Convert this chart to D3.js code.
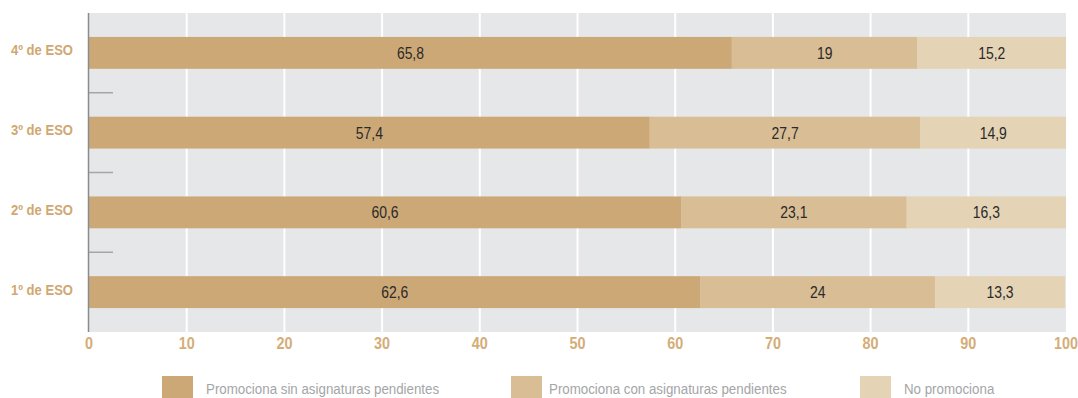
<!DOCTYPE html>
<html><head><meta charset="utf-8">
<script src="https://cdn.jsdelivr.net/npm/d3@7"></script>
<style>
html,body{margin:0;padding:0;background:#fff;}
svg{display:block;}
text{font-family:"Liberation Sans",Arial,sans-serif;}
</style></head>
<body>
<svg id="c" width="1078" height="398"></svg>
<script>
const categories = ["4º de ESO","3º de ESO","2º de ESO","1º de ESO"];
const seriesNames = ["Promociona sin asignaturas pendientes","Promociona con asignaturas pendientes","No promociona"];
const sinPendientes = [65.8, 57.4, 60.6, 62.6];
const conPendientes = [19, 27.7, 23.1, 24];
const noPromociona = [15.2, 14.9, 16.3, 13.3];
const xTicks = [0,10,20,30,40,50,60,70,80,90,100];
const colors = ["#cda877","#d9bd95","#e5d3b5"];

const series = [sinPendientes, conPendientes, noPromociona];
const svg = d3.select("#c");
const pLeft = 89, pRight = 1066, pTop = 13, pBottom = 332;

const x = d3.scaleLinear().domain([0,100]).range([pLeft,pRight]);
const y = d3.scaleBand().domain(categories).range([pTop,pBottom]).paddingInner(0.6).paddingOuter(0.3);

svg.append("rect").attr("x",pLeft).attr("y",pTop).attr("width",pRight-pLeft).attr("height",pBottom-pTop).attr("fill","#e6e7e9");

// grid
svg.append("g").selectAll("line").data(xTicks.filter(d=>d>0&&d<100)).join("line")
  .attr("x1",d=>x(d)).attr("x2",d=>x(d)).attr("y1",pTop).attr("y2",pBottom)
  .attr("stroke","#fff").attr("stroke-width",2);

// category separator ticks
const seps = categories.slice(1).map((c,i)=> (y(categories[i])+y.bandwidth() + y(c))/2);
svg.append("g").selectAll("line").data(seps).join("line")
  .attr("x1",pLeft).attr("x2",pLeft+24).attr("y1",d=>d).attr("y2",d=>d)
  .attr("stroke","#a5a6a8").attr("stroke-width",1.5);

// stacked bars
const stacked = categories.map((c,i)=>{
  let acc=0;
  return series.map((s,k)=>{const v=s[i]; const r={cat:c,k,v,x0:acc,x1:acc+v}; acc+=v; return r;});
}).flat();

const g = svg.append("g");
g.selectAll("rect").data(stacked).join("rect")
  .attr("x",d=>x(d.x0)).attr("width",d=>x(Math.min(d.x1,100))-x(d.x0))
  .attr("y",d=>y(d.cat)).attr("height",y.bandwidth())
  .attr("fill",d=>colors[d.k]);
g.selectAll("text").data(stacked).join("text")
  .attr("transform",d=>`translate(${(x(d.x0)+x(Math.min(d.x1,100)))/2},${y(d.cat)+y.bandwidth()/2+6}) scale(0.87,1)`)
  .attr("text-anchor","middle")
  .attr("font-size",16).attr("fill","#2a2a2a")
  .text(d=>String(d.v).replace(".",","));

// left axis line
svg.append("line").attr("x1",pLeft-0.5).attr("x2",pLeft-0.5).attr("y1",pTop).attr("y2",pBottom)
  .attr("stroke","#8a8b8d").attr("stroke-width",1.5);

// category labels
svg.append("g").selectAll("text").data(categories).join("text")
  .attr("transform",d=>`translate(73,${y(d)+y.bandwidth()/2+2.5}) scale(0.87,1)`)
  .attr("text-anchor","end").attr("font-size",15).attr("font-weight","bold")
  .attr("fill","#d0a872").text(d=>d);

// x tick labels
svg.append("g").selectAll("text").data(xTicks).join("text")
  .attr("transform",d=>`translate(${x(d)},349) scale(0.9,1)`).attr("text-anchor","middle")
  .attr("font-size",16).attr("font-weight","bold").attr("fill","#d4ad78")
  .text(d=>d);

// legend
const legX = [162, 511, 860];
const leg = svg.append("g").selectAll("g").data(seriesNames).join("g")
  .attr("transform",(d,i)=>`translate(${legX[i]},376)`);
leg.append("rect").attr("width",31).attr("height",24).attr("fill",(d,i)=>colors[i]);
leg.append("text").attr("transform",(d,i)=>`translate(${i===1?38:44},18) scale(0.86,1)`).attr("font-size",15.5)
  .attr("fill","#a4a5a7").text(d=>d);
</script>
</body></html>
